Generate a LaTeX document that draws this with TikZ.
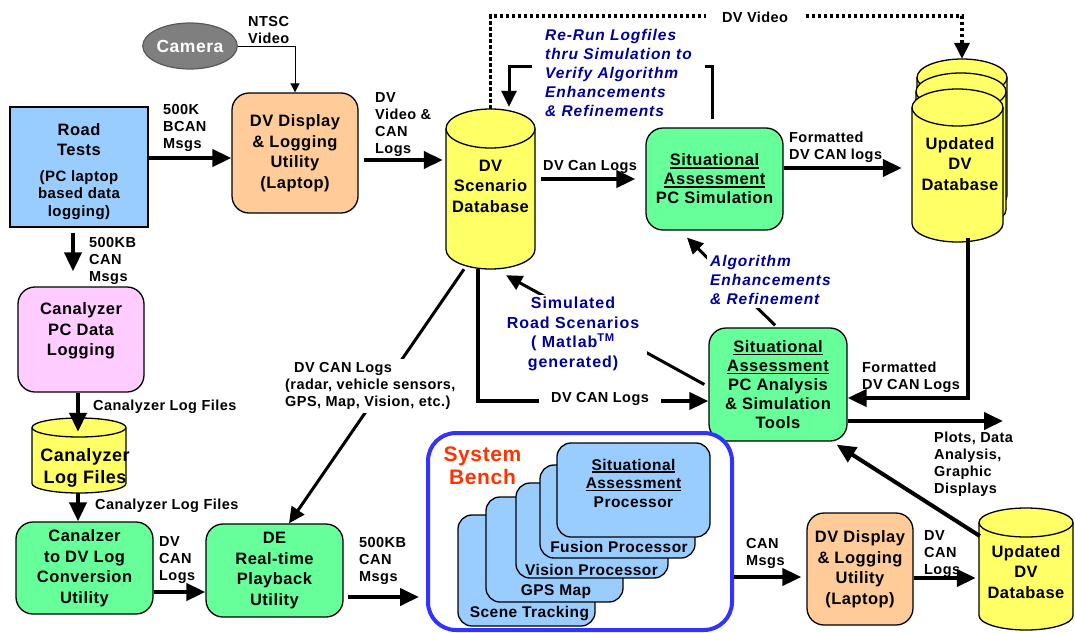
\documentclass[tikz,border=0pt]{standalone}
\usepackage{fontspec}
\setmainfont{Liberation Sans}[LetterSpace=3]
\newfontfamily\widefam{Liberation Sans}[LetterSpace=6]
\usetikzlibrary{arrows.meta,calc,shapes.geometric}

\definecolor{roadblue}{HTML}{99CCFF}
\definecolor{peach}{HTML}{FFCC99}
\definecolor{pinkfill}{HTML}{FFCCFF}
\definecolor{dbyellow}{HTML}{FFFF66}
\definecolor{toolgreen}{HTML}{66FF99}
\definecolor{benchblue}{HTML}{3333FF}
\definecolor{benchred}{HTML}{FF3300}
\definecolor{notes}{HTML}{000099}
\definecolor{camgray}{HTML}{7F7F7F}

% type sizes (1pt = one unit of the drawing grid)
\newcommand\txmain{\fontsize{16.5}{20.5}\selectfont\bfseries}
\newcommand\txtight{\fontsize{16.5}{19}\selectfont\bfseries}
\newcommand\txsub{\fontsize{15}{17.5}\selectfont\bfseries}
\newcommand\txsmall{\fontsize{14.5}{17}\selectfont\bfseries}
\newcommand\txnote{\widefam\fontsize{15.5}{19}\selectfont\bfseries\itshape}
\newcommand\txsim{\widefam\fontsize{16}{19.7}\selectfont\bfseries}
\newcommand\txcam{\fontsize{17.5}{20}\selectfont\bfseries}
\newcommand\txbench{\fontsize{21}{23}\selectfont\bfseries}
\newcommand\txproc{\fontsize{15.5}{18.5}\selectfont\bfseries}
\newcommand\txdrum{\fontsize{18}{22}\selectfont\bfseries}

% heavy underline for the assessment titles
\newcommand\ulword[1]{\leavevmode\setbox0=\hbox{#1}\rlap{\rule[-2.6pt]{\wd0}{1.2pt}}\box0}

% database drum: centre x, top y, bottom y, half width, half lid height
\newcommand\drum[5]{%
  \filldraw[fill=dbyellow, line width=1.3pt]
    ({#1-#4},{#2+#5}) -- ({#1-#4},{#3-#5})
    arc[start angle=180, end angle=360, x radius=#4pt, y radius=#5pt]
    -- ({#1+#4},{#2+#5})
    arc[start angle=0, end angle=180, x radius=#4pt, y radius=#5pt] -- cycle;
  \draw[line width=1.3pt] ({#1-#4},{#2+#5})
    arc[start angle=180, end angle=360, x radius=#4pt, y radius=#5pt];}

\begin{document}
\begin{tikzpicture}[x=1pt,y=-1pt,
  every node/.style={inner sep=0pt},
  box/.style={draw, line width=1.3pt, rounded corners=17pt, align=center, font=\txmain},
  procbox/.style={draw, line width=1.3pt, rounded corners=14pt, fill=roadblue},
  proctext/.style={font=\txproc, align=center},
  drumnode/.style={},
  lbl/.style={font=\txsmall, align=left, anchor=west},
  note/.style={font=\txnote, text=notes, align=left, anchor=west, fill=white},
  bigarrow/.style={line width=4pt, -{Triangle[length=19pt,width=17pt]}},
  midarrow/.style={line width=3pt, -{Triangle[length=16pt,width=15pt]}},
  thinarrow/.style={line width=1pt, -{Triangle[length=9pt,width=9pt]}},
  dotline/.style={line width=3.5pt, dash pattern=on 3.5pt off 2.5pt, -{Triangle[length=16pt,width=15pt]}}]
\useasboundingbox (0,0) rectangle (1075,632);

% ---------- boxes ----------
\node[draw=black!65, fill=camgray, ellipse, minimum width=94pt, minimum height=46pt,
      line width=1.2pt, text=white, font=\txcam] (camera) at (190,46) {Camera};

\node[box, sharp corners, fill=roadblue, minimum width=138pt, minimum height=120pt] (roadtests) at (79,167) {};
\node[font=\txmain, align=center] (rtmain) at (79,139.5) {Road\\Tests};
\node[font=\txsub, align=center] (rtsub) at (79,195) {(PC laptop\\based data\\logging)};

\node[box, fill=peach, minimum width=126pt, minimum height=120pt] (dvdisp1) at (295,153) {DV Display\\\& Logging\\Utility\\(Laptop)};

\node[box, fill=pinkfill, minimum width=126pt, minimum height=105pt] (canpc) at (81,339.5) {};
\node[font=\txmain, align=center] (canpctext) at (81,331) {Canalyzer\\PC Data\\Logging};

\node[box, fill=toolgreen, minimum width=137pt, minimum height=92pt] (canconv) at (84.5,568) {Canalzer\\to DV Log\\Conversion\\Utility};
\node[box, fill=toolgreen, minimum width=137pt, minimum height=93pt] (de) at (274.5,570.5) {DE\\Real-time\\Playback\\Utility};
\node[box, fill=toolgreen, minimum width=137pt, minimum height=102pt, font=\txtight] (pcsim) at (714.5,179) {\ulword{Situational}\\\ulword{Assessment}\\PC Simulation};
\node[box, fill=toolgreen, minimum width=138pt, minimum height=113pt, font=\txtight] (pcan) at (778,384.5) {\ulword{Situational}\\\ulword{Assessment}\\PC Analysis\\\& Simulation\\Tools};
\node[box, fill=peach, minimum width=106pt, minimum height=112pt] (dvdisp2) at (860,569) {DV Display\\\& Logging\\Utility\\(Laptop)};

% ---------- databases ----------
\drum{490.5}{109}{269}{44.5}{19.5}
\node[minimum width=89pt, minimum height=160pt, font=\txmain, align=center, text depth=0pt] (dvdb) at (490.5,189) {};
\node[font=\txmain, align=center] (dvdbtext) at (490.5,186) {DV\\Scenario\\Database};

\drum{79}{418}{493}{47}{9.5}
\node[minimum width=94pt, minimum height=75pt] (canlog) at (79,455.5) {};
\node[font=\txdrum, align=center] (canlogtext) at (85,468) {Canalyzer\\Log Files};

\drum{962}{59}{214}{45}{18.5}
\drum{961}{73}{228}{45}{18.5}
\drum{957.5}{89}{242}{45.5}{18.5}
\node[minimum width=90pt, minimum height=155pt] (upddbback) at (962,136.5) {};
\node[minimum width=91pt, minimum height=153pt] (upddb) at (957.5,165.5) {};
\node[font=\txmain, align=center] (upddbtext) at (960,164) {Updated\\DV\\Database};

\drum{1026}{508}{630}{47}{14.5}
\node[minimum width=94pt, minimum height=122pt] (upddb2) at (1026,569) {};
\node[font=\txmain, align=center] (upddb2text) at (1026,572) {Updated\\DV\\Database};

% ---------- system bench ----------
\node[draw=benchblue, line width=4pt, rounded corners=28pt, fill=white,
      minimum width=304pt, minimum height=197pt] (bench) at (580,531.5) {};
\node[font=\txbench, text=benchred, align=center] (benchtitle) at (482.5,466) {System\\Bench};

\node[procbox, minimum width=137pt, minimum height=111pt] (scene) at (526.5,570.5) {};
\node[proctext] (scenetext) at (529.5,614) {Scene Tracking};
\node[procbox, minimum width=137pt, minimum height=105pt] (gps) at (554.5,549.5) {};
\node[proctext] (gpstext) at (556,592) {GPS Map};
\node[procbox, minimum width=152pt, minimum height=95pt] (vision) at (592,530.5) {};
\node[proctext] (visiontext) at (591.5,570) {Vision Processor};
\node[procbox, minimum width=155pt, minimum height=93pt] (fusion) at (617.5,511.5) {};
\node[proctext] (fusiontext) at (619,547) {Fusion Processor};
\node[procbox, minimum width=153pt, minimum height=94pt] (saproc) at (633.5,490) {};
\node[proctext] (saproctext) at (633.5,483) {\ulword{Situational}\\\ulword{Assessment}\\Processor};

% ---------- connectors ----------
\draw[thinarrow] (camera.east) -| (dvdisp1.north);
\draw[bigarrow] (roadtests.east |- 0,158) -- (dvdisp1.west |- 0,158);
\draw[bigarrow, shorten <=5pt, shorten >=3pt] (dvdisp1.east |- 0,160) -- (dvdb.west |- 0,160);
\draw[bigarrow, shorten <=5pt, shorten >=15pt] (roadtests.south -| 73,0) -- (canpc.north -| 73,0);
\draw[bigarrow, shorten >=-14pt] (canpc.south -| 78,0) -- (canlog.north -| 78,0);
\draw[bigarrow] (canlog.south -| 78,0) -- (canconv.north -| 78,0);
\draw[bigarrow] (canconv.east |- 0,592) -- (de.west |- 0,592);
\draw[bigarrow, shorten <=4pt, shorten >=7pt] (de.east |- 0,597) -- (bench.west |- 0,597);
\draw[midarrow] ($(dvdb.south)+(-26.5,0)$) -- ($(de.north)+(14.5,0)$);
\draw[dotline] (dvdb.north) -- (dvdb.north |- 0,16) -| (upddbback.north);
\draw[midarrow] ($(pcsim.north)+(-2.5,-8)$) |- ($(dvdb.north)+(18.5,-42)$) -- ($(dvdb.north)+(18.5,-2)$);
\draw[bigarrow, shorten <=6pt, shorten >=10pt] (dvdb.east |- 0,179) -- (pcsim.west |- 0,179);
\draw[bigarrow, shorten >=10pt] (pcsim.east |- 0,168) -- (upddb.west |- 0,168);
\draw[bigarrow] ($(upddb.south)+(10.5,-4)$) |- (pcan.east |- 0,398);
\draw[bigarrow] ($(dvdb.south)+(-12.5,0)$) |- (pcan.west |- 0,401);
\draw[midarrow] ($(pcan.north)+(-3,-2)$) -- ($(pcsim.south)+(-27.5,7)$);
\draw[midarrow] ($(pcan.west)+(-4,0)$) -- ($(dvdb.south)+(15.5,6)$);
\coordinate (plotsend) at (1003,421);
\draw[bigarrow] (pcan.east |- 0,421) -- (plotsend);
\draw[bigarrow] ($(upddb2.west)+(1,-33)$) -- ($(pcan.south east)+(-11,3)$);
\draw[bigarrow, shorten >=5pt] (bench.east |- 0,577) -- (dvdisp2.west |- 0,577);
\draw[bigarrow, shorten >=3pt] (dvdisp2.east |- 0,578) -- (upddb2.west |- 0,578);

% ---------- connector labels ----------
\node[lbl] (ntsc) at (248,30.5) {NTSC\\Video};
\node[lbl] (l500k) at (163,128) {500K\\BCAN\\Msgs};
\node[lbl] (lvidcan) at (375,124.5) {DV\\Video \&\\CAN\\Logs};
\node[lbl] (l500kb) at (89,261) {500KB\\CAN\\Msgs};
\node[lbl] (lcanfiles1) at (93,407) {Canalyzer Log Files};
\node[lbl] (lcanfiles2) at (95,506) {Canalyzer Log Files};
\node[lbl] (lconvlogs) at (159,560) {DV\\CAN\\Logs};
\node[lbl] (l500kb2) at (359,561) {500KB\\CAN\\Msgs};
\node[lbl, fill=white, inner sep=3pt] (lradar) at (282,386) {\hspace*{9pt}DV CAN Logs\\(radar, vehicle sensors,\\GPS, Map, Vision, etc.)};
\node[lbl] (lcanlogs) at (543,167) {DV Can Logs};
\node[lbl] (lformatted1) at (789,147) {Formatted\\DV CAN logs};
\node[lbl, anchor=center, fill=white, inner xsep=16pt, inner ysep=3pt] (ldvvideo) at (755,17) {DV Video};
\node[lbl] (lformatted2) at (862,377) {Formatted\\DV CAN Logs};
\node[lbl, anchor=center, fill=white, inner xsep=12pt, inner ysep=3pt] (lbottomlogs) at (600,399) {DV CAN Logs};
\node[lbl] (lplots) at (934,464) {Plots, Data\\Analysis,\\Graphic\\Displays};
\node[lbl] (lcanmsgs) at (746,553) {CAN\\Msgs};
\node[lbl] (ldvcan3) at (924,554) {DV\\CAN\\Logs};

\node[note, inner xsep=13pt, inner ysep=1pt] (lrerun) at (532,73) {Re-Run Logfiles\\thru Simulation to\\Verify Algorithm\\Enhancements\\\& Refinements};
\node[note, inner sep=3pt] (lalg) at (707,280) {Algorithm\\Enhancements\\\& Refinement};
\node[font=\txsim, text=notes, align=center, fill=white, inner xsep=8pt, inner ysep=2pt] (lsim) at (573,334) {Simulated\\Road Scenarios\\( Matlab\textsuperscript{TM}\\generated)};
\end{tikzpicture}
\end{document}
